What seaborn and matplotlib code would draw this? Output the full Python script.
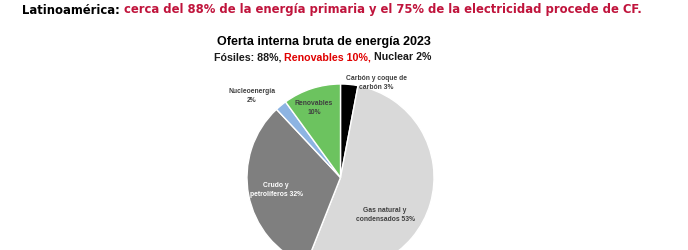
import matplotlib
matplotlib.use("Agg")
import matplotlib.pyplot as plt
import seaborn as sns

sns.set_theme(style="white")
plt.rcParams['font.family'] = ['Liberation Sans', 'DejaVu Sans']

categories = ["Carbón y coque de\ncarbón 3%", "Gas natural y\ncondensados 53%",
              "Crudo y\npetrolíferos 32%", "Nucleoenergía\n2%", "Renovables\n10%"]
values = [3, 53, 32, 2, 10]
colors = ["#000000", "#d9d9d9", "#7f7f7f", "#8db4e2", "#6cc35f"]

W, H = 688, 250
fig = plt.figure(figsize=(W / 100, H / 100), dpi=100)
fig.patch.set_facecolor("white")

cx, cy, r = 340.5, 177.5, 93.5
ax = fig.add_axes([(cx - r) / W, (H - cy - r) / H, 2 * r / W, 2 * r / H])
wedges, _ = ax.pie(values, colors=colors, startangle=90, counterclock=False,
                   radius=1.0, wedgeprops=dict(edgecolor="white", linewidth=1.0))
ax.set_xlim(-1, 1)
ax.set_ylim(-1, 1)
ax.set_aspect("equal")
ax.axis("off")
for w in wedges:
    w.set_clip_on(False)

lab_pos = [(376, 83, "#404040"), (385, 215, "#404040"), (276, 190, "white"),
           (252, 96, "#404040"), (314, 108, "#404040")]
for (x, y, c), txt in zip(lab_pos, categories):
    fig.text(x / W, 1 - y / H, txt, ha="center", va="center", fontsize=4.9,
             color=c, fontweight="bold", linespacing=1.5)

renderer = fig.canvas.get_renderer()

def header(fs):
    t1 = fig.text(22 / W, 1 - 10 / H, "Latinoamérica: ", ha="left", va="center",
                  fontsize=fs, fontweight="bold", color="black",
                  family='DejaVu Sans', fontstretch='condensed')
    x1 = t1.get_window_extent(renderer=renderer).x1
    t2 = fig.text(x1 / W, 1 - 10 / H,
                  "cerca del 88% de la energía primaria y el 75% de la electricidad procede de CF.",
                  ha="left", va="center", fontsize=fs, fontweight="bold", color="#c0143c",
                  family='DejaVu Sans', fontstretch='condensed')
    return t1, t2

t1, t2 = header(11)
end = t2.get_window_extent(renderer=renderer).x1
fs = 11 * (640 - 22) / (end - 22)
t1.remove(); t2.remove()
header(fs)

fig.text(324 / W, 1 - 42 / H, "Oferta interna bruta de energía 2023", ha="center",
         va="center", fontsize=9, fontweight="bold", color="black")

parts = [("Fósiles: 88%, ", "#1a1a1a"), ("Renovables 10%, ", "#e00000"), ("Nuclear 2%", "#1a1a1a")]
x = 214
for s, c in parts:
    t = fig.text(x / W, 1 - 57 / H, s, ha="left", va="center", fontsize=7.7,
                 fontweight="bold", color=c)
    x = t.get_window_extent(renderer=renderer).x1

fig.savefig("out.png", dpi=100, facecolor="white")
